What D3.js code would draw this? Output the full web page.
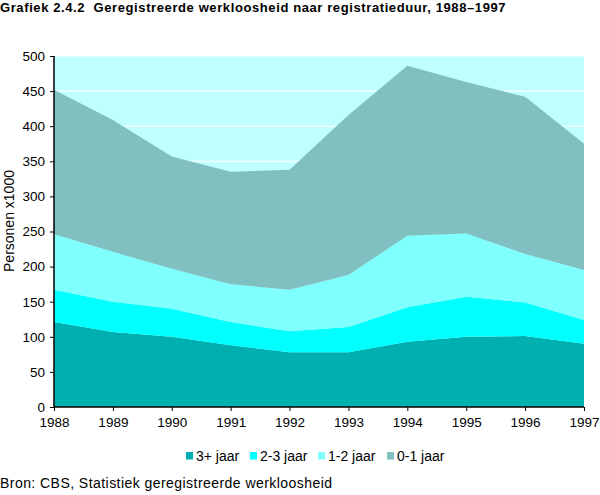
<!DOCTYPE html>
<html><head><meta charset="utf-8">
<script src="https://cdn.jsdelivr.net/npm/d3@7"></script>
<style>body{margin:0;background:#fff;} text{font-family:"Liberation Sans",Arial,sans-serif;}</style>
</head><body>
<svg id="c" width="600" height="495"></svg>
<script>
const years = [1988,1989,1990,1991,1992,1993,1994,1995,1996,1997];
const seriesNames = ["3+ jaar","2-3 jaar","1-2 jaar","0-1 jaar"];
const s3plus = [121,107,100,88,78,78,93,100,101,90];
const s23 = [46,43,40,33,30,36,49,57,48,34];
const s12 = [79,71,57,54,59,74,102,90,69,71];
const s01 = [206,188,160,160,171,228,242,216,224,180];
const yTicks = [0,50,100,150,200,250,300,350,400,450,500];
const colors = ["#00b0b0","#00ffff","#80ffff","#80c0c0"];

const rows = years.map((y,i)=>({year:y,"3+ jaar":s3plus[i],"2-3 jaar":s23[i],"1-2 jaar":s12[i],"0-1 jaar":s01[i]}));
const stack = d3.stack().keys(seriesNames)(rows);

const svg = d3.select("#c");
const L=54,R=584,T=56,B=407;
const x = d3.scaleLinear().domain([1988,1997]).range([L,R]);
const y = d3.scaleLinear().domain([0,500]).range([B,T]);

svg.append("text").attr("x",0).attr("y",11.5).attr("font-size",13).attr("font-weight","bold")
  .attr("letter-spacing",0.6).style("white-space","pre")
  .text("Grafiek 2.4.2  Geregistreerde werkloosheid naar registratieduur, 1988–1997");

svg.append("rect").attr("x",L).attr("y",T).attr("width",R-L).attr("height",B-T).attr("fill","#c0ffff");
svg.append("g").selectAll("line").data(yTicks.slice(1)).join("line")
  .attr("x1",L).attr("x2",R).attr("y1",d=>y(d)).attr("y2",d=>y(d)).attr("stroke","#fff").attr("stroke-width",1);

const area = d3.area().x(d=>x(d.data.year)).y0(d=>y(d[0])).y1(d=>y(d[1]));
svg.append("g").selectAll("path").data(stack).join("path")
  .attr("d",area).attr("fill",(d,i)=>colors[i]);

const ya = svg.append("g").attr("transform",`translate(${L},0)`)
  .call(d3.axisLeft(y).tickValues(yTicks).tickSize(4).tickPadding(5));
const xa = svg.append("g").attr("transform",`translate(0,${B})`)
  .call(d3.axisBottom(x).tickValues(years).tickFormat(d3.format("d")).tickSize(4).tickPadding(6));
[ya,xa].forEach(a=>{
  a.selectAll("text").attr("font-size",13.5).attr("fill","#000").attr("font-family","Liberation Sans, Arial, sans-serif");
  a.selectAll("line").attr("stroke","#000");
  a.select(".domain").attr("stroke","#000").attr("stroke-width",1.5);
});
ya.select(".domain").attr("d",`M0,${B}V${T}`);
xa.select(".domain").attr("d",`M${L},0H${R}`);

svg.append("text").attr("transform",`translate(14,221) rotate(-90)`).attr("text-anchor","middle")
  .attr("font-size",14).text("Personen x1000");

const legX = [186,250,318,387];
const lg = svg.append("g").selectAll("g").data(seriesNames).join("g")
  .attr("transform",(d,i)=>`translate(${legX[i]},452)`);
lg.append("rect").attr("width",7).attr("height",7.5).attr("fill",(d,i)=>colors[i]);
lg.append("text").attr("x",10).attr("y",8.5).attr("font-size",14).text(d=>d);

svg.append("text").attr("x",0).attr("y",488).attr("font-size",14).attr("letter-spacing",0.45)
  .text("Bron: CBS, Statistiek geregistreerde werkloosheid");
</script>
</body></html>
